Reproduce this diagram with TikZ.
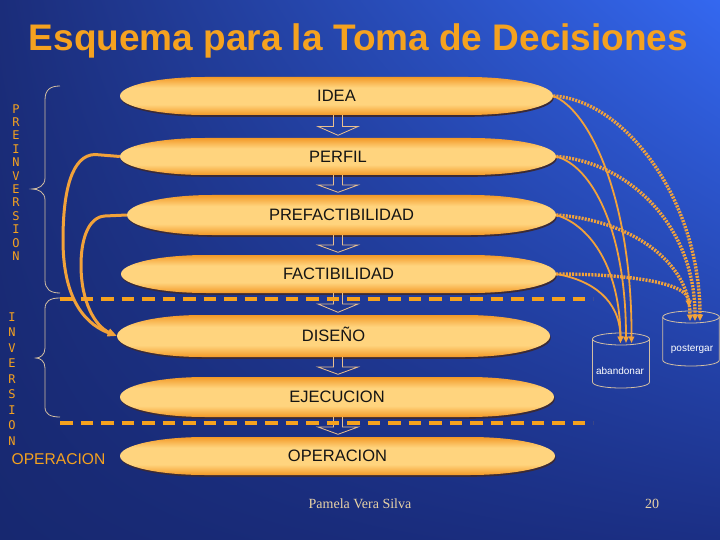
\documentclass[tikz,border=0pt]{standalone}
\usepackage{fontspec}
\setmainfont{Liberation Sans}
\newfontfamily\vmonofont{DejaVu Sans Mono}
\newfontfamily\footserif{Liberation Serif}
\usetikzlibrary{arrows.meta,calc,shadings}

\definecolor{bgTL}{HTML}{1B2D7A}
\definecolor{bgTR}{HTML}{3468F0}
\definecolor{bgBL}{HTML}{172870}
\definecolor{bgBR}{HTML}{1B2F85}
\definecolor{orng}{HTML}{F5A21F}
\definecolor{capedge}{HTML}{F39A28}
\definecolor{capmid}{HTML}{FFD47E}
\definecolor{capshadow}{HTML}{3A2A38}
\definecolor{linecol}{HTML}{F2A23A}
\definecolor{bracecol}{HTML}{D2BEA2}
\definecolor{footcol}{HTML}{E8D2A6}
\definecolor{arrowcol}{HTML}{EAC08E}

\pgfdeclareverticalshading{capshade}{100bp}{color(0bp)=(capedge); color(25bp)=(capedge);
  color(39bp)=(capmid); color(61bp)=(capmid); color(75bp)=(capedge); color(100bp)=(capedge)}

\newcommand\capsulepathcmd[1]{%
  \path[#1] (\cL,\cY) .. controls (\lA,\yTc) and (\lB,\yT) .. (\lC,\yT) -- (\rC,\yT)
    .. controls (\rB,\yT) and (\rA,\yTc) .. (\cR,\cY)
    .. controls (\rA,\yBc) and (\rB,\yB) .. (\rC,\yB) -- (\lC,\yB)
    .. controls (\lB,\yB) and (\lA,\yBc) .. cycle;}

\newcommand\mkcapsule[6]{%
  \pgfmathsetmacro\cL{#1}%
  \pgfmathsetmacro\cR{#2}%
  \pgfmathsetmacro\cY{#3}%
  \pgfmathsetmacro\cH{#4}%
  \pgfmathsetmacro\cX{(\cL+\cR)/2}%
  \pgfmathsetmacro\cW{\cR-\cL}%
  \pgfmathsetmacro\cHH{2*\cH}%
  \pgfmathsetmacro\yT{\cY-\cH}%
  \pgfmathsetmacro\yB{\cY+\cH}%
  \pgfmathsetmacro\yTc{\cY-0.552*\cH}%
  \pgfmathsetmacro\yBc{\cY+0.552*\cH}%
  \pgfmathsetmacro\lA{\cL}%
  \pgfmathsetmacro\lB{\cL+38}%
  \pgfmathsetmacro\lC{\cL+85}%
  \pgfmathsetmacro\rA{\cR}%
  \pgfmathsetmacro\rB{\cR-38}%
  \pgfmathsetmacro\rC{\cR-85}%
  \capsulepathcmd{fill=capshadow, shift={(0.8,1.8)}}%
  \capsulepathcmd{shading=capshade}%
  \node[capnode, minimum width=\cW pt, minimum height=\cHH pt] (#5) at (\cX,\cY) {#6};%
}

\newcommand\mkdownarrow[2]{%
  \draw[blockarrow] let \p1=(#1.south), \p2=(#2.north) in
    (333.5pt,\y1) -- (333.5pt,{(\y1+\y2)/2}) -- (318pt,{(\y1+\y2)/2})
    -- (338pt,{\y2+2.5pt}) -- (358pt,{(\y1+\y2)/2}) -- (342.5pt,{(\y1+\y2)/2})
    -- (342.5pt,\y1);%
}

\begin{document}
\begin{tikzpicture}[x=1pt,y=-1pt,
  capnode/.style={rectangle, inner sep=0pt, text=black!92,
    font=\fontsize{16.5}{18}\selectfont, text height=11.9pt, text depth=0pt},
  blockarrow/.style={draw=arrowcol, line width=0.8pt},
  sepline/.style={draw=orng, line width=4pt, dash pattern=on 12.5pt off 8pt},
  bracestyle/.style={draw=bracecol, line width=0.8pt},
  vtext/.style={text=orng, align=center, inner sep=0pt},
  cylstyle/.style={draw=bracecol, line width=0.8pt},
  cyllabel/.style={text=white, font=\fontsize{10}{12}\selectfont, inner sep=0pt},
  solidconn/.style={draw=linecol, line width=1.8pt, -{Triangle[length=6.5pt,width=5.5pt]}},
  dotconn/.style={draw=linecol, line width=3.4pt, dash pattern=on 2pt off 1.2pt,
    -{Triangle[length=6.5pt,width=6pt]}},
  leftconn/.style={draw=linecol, line width=3pt, -{Triangle[length=9pt,width=7pt]}},
  footstyle/.style={text=footcol, font=\footserif\fontsize{14}{16}\selectfont, inner sep=0pt}
]
\useasboundingbox (0,0) rectangle (720,540);
\shade[upper left=bgTL, upper right=bgTR, lower left=bgBL, lower right=bgBR]
  (0,0) rectangle (720,540);

% title
\node[anchor=base, text=orng, inner sep=0pt,
  font=\bfseries\fontsize{37}{40}\selectfont] (title) at (358.5,51)
  {Esquema para la Toma de Decisiones};

% capsules
\mkcapsule{120}{553}{96}{19}{idea}{IDEA}
\mkcapsule{120}{556}{156.5}{18.5}{perfil}{PERFIL}
\mkcapsule{127}{556}{215}{20}{prefact}{PREFACTIBILIDAD}
\mkcapsule{121}{556}{274}{19}{fact}{FACTIBILIDAD}
\mkcapsule{117}{550}{336}{21}{diseno}{DISEÑO}
\mkcapsule{120}{554}{397}{20}{ejec}{EJECUCION}
\mkcapsule{120}{555}{456}{19}{oper}{OPERACION}

% hollow block arrows
\mkdownarrow{idea}{perfil}
\mkdownarrow{perfil}{prefact}
\mkdownarrow{prefact}{fact}
\mkdownarrow{fact}{diseno}
\mkdownarrow{diseno}{ejec}
\mkdownarrow{ejec}{oper}

% separators
\coordinate (sepAa) at (60,299);
\coordinate (sepAb) at (593,299);
\coordinate (sepBa) at (60,423);
\coordinate (sepBb) at (593,423);
\draw[sepline] (sepAa) -- (sepAb);
\draw[sepline] (sepBa) -- (sepBb);

% braces
\draw[bracestyle] (60,86) .. controls (50,86) and (45,90) .. (45,100) -- (45,178)
  .. controls (45,186) and (38,189) .. (32,189)
  .. controls (38,189) and (45,192) .. (45,200) -- (45,280)
  .. controls (45,289) and (50,293) .. (60,293);
\draw[bracestyle] (60,298) .. controls (50,298) and (45,301) .. (45,309) -- (45,348)
  .. controls (45,355) and (40,358) .. (36,358)
  .. controls (40,358) and (45,361) .. (45,368) -- (45,407)
  .. controls (45,414) and (50,417) .. (60,417);

% vertical texts
\node[vtext, font=\vmonofont\fontsize{12}{13.4}\selectfont] (preinv) at (16,182.5)
  {P\\R\\E\\I\\N\\V\\E\\R\\S\\I\\O\\N};
\node[vtext, font=\vmonofont\fontsize{12}{15.5}\selectfont] (inv) at (12,379)
  {I\\N\\V\\E\\R\\S\\I\\O\\N};
\node[anchor=base west, text=orng, inner sep=0pt, font=\fontsize{15.6}{18}\selectfont]
  (operlabel) at (11.5,464) {OPERACION};

% cylinders
\draw[cylstyle] (621,339) ellipse [x radius=28.5, y radius=6];
\draw[cylstyle] (592.5,339) -- (592.5,382) .. controls (592.5,390) and (649.5,390) .. (649.5,382) -- (649.5,339);
\node[cyllabel] (aband) at (620,371) {abandonar};
\draw[cylstyle] (691,317) ellipse [x radius=28.3, y radius=6];
\draw[cylstyle] (662.7,317) -- (662.7,360) .. controls (662.7,368) and (719.3,368) .. (719.3,360) -- (719.3,317);
\node[cyllabel] (poster) at (692,349) {postergar};

\coordinate (ab1) at (620.5,343);
\coordinate (ab2) at (626,343);
\coordinate (ab3) at (631.5,343);
\coordinate (pg1) at (690,321);
\coordinate (pg2) at (695,321);
\coordinate (pg3) at (700,321);
\coordinate (pg4) at (689,307);

% left connectors
\draw[leftconn] (perfil.west) -- (95,154.5) .. controls (72,155) and (63,190) .. (63,240)
  .. controls (63,292) and (80,322) .. (diseno.west);
\draw[leftconn] (prefact.west) -- (105,216) .. controls (88,217) and (81,240) .. (81,265)
  .. controls (81,302) and (95,326) .. (diseno.west);

% right connectors: abandon (solid)
\draw[solidconn] (idea.east) .. controls (590,110) and (632,200) .. (ab3);
\draw[solidconn] (perfil.east) .. controls (592,166) and (626,230) .. (ab2);
\draw[solidconn] (prefact.east) .. controls (592,226) and (620,270) .. (ab1);
\draw[solidconn] (fact.east) .. controls (592,280) and (620,300) .. (ab1);
% right connectors: postpone (dotted)
\draw[dotconn] (idea.east) .. controls (625,100) and (700,200) .. (pg3);
\draw[dotconn] (perfil.east) .. controls (628,162) and (695,225) .. (pg2);
\draw[dotconn] (prefact.east) .. controls (630,220) and (690,262) .. (pg1);
\draw[dotconn] (fact.east) .. controls (625,274) and (688,282) .. (pg4);

% footer
\node[footstyle] (author) at (360,504) {Pamela Vera Silva};
\node[footstyle] (pagenum) at (652,504) {20};
\end{tikzpicture}
\end{document}
